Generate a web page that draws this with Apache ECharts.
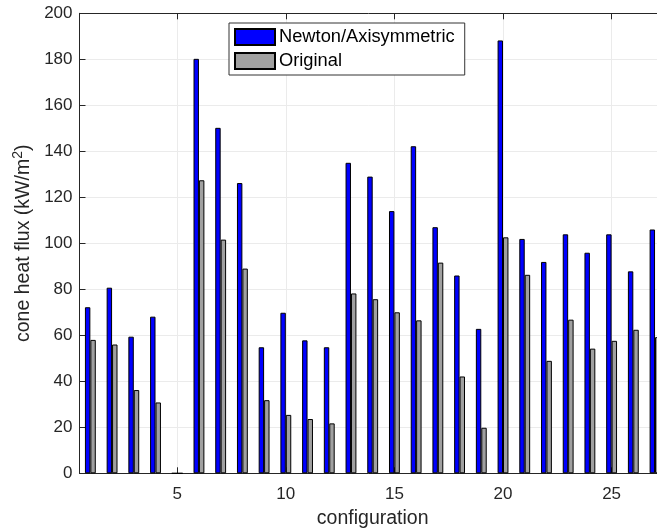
<!DOCTYPE html>
<html>
<head>
<meta charset="utf-8">
<script src="https://cdn.jsdelivr.net/npm/echarts@6/dist/echarts.min.js"></script>
<style>html,body{margin:0;padding:0;background:#fff}#c{width:657px;height:529px}</style>
</head>
<body>
<div id="c"></div>
<script>
var categories = ['1','2','3','4','5','6','7','8','9','10','11','12','13','14','15','16','17','18','19','20','21','22','23','24','25','26','27'];
var newtonValues = [72.2, 80.7, 59.4, 68.1, 0, 180.2, 150.2, 126.2, 54.8, 69.8, 57.8, 54.8, 135, 129, 114, 142.2, 107, 86, 62.8, 188.2, 101.9, 91.9, 103.9, 95.9, 103.9, 87.8, 106];
var originalValues = [58, 56, 36.2, 30.8, 0, 127.4, 101.6, 89, 31.8, 25.4, 23.6, 21.7, 78.2, 75.7, 70, 66.5, 91.6, 42.1, 19.8, 102.6, 86.3, 48.9, 66.8, 54.2, 57.6, 62.4, 59.2];
var yTicks = [0, 20, 40, 60, 80, 100, 120, 140, 160, 180, 200];
var xTickLabels = [5, 10, 15, 20, 25];

var font = 'Liberation Sans, Arial, Helvetica, sans-serif';
var axisColor = '#262626';
var gridColor = '#ebebeb';

var chart = echarts.init(document.getElementById('c'), null, {renderer: 'canvas'});
chart.setOption({
  animation: false,
  backgroundColor: '#fff',
  textStyle: {fontFamily: font},
  grid: {left: 79.5, right: -8.9, top: 13.3, bottom: 55.7, containLabel: false, outerBoundsMode: 'none'},
  legend: {
    orient: 'vertical',
    left: 229, top: 23,
    itemWidth: 40, itemHeight: 16, itemGap: 6,
    padding: [5, 10, 5, 5],
    backgroundColor: '#fff',
    borderColor: '#333', borderWidth: 1,
    icon: 'rect',
    textStyle: {fontFamily: font, fontSize: 18.3, color: '#000', lineHeight: 16, padding: [0,0,0,-1]},
    data: ['Newton/Axisymmetric', 'Original']
  },
  xAxis: [
    {type: 'category', data: categories, show: false, boundaryGap: true, position: 'bottom'},
    {
      type: 'value', min: 0.5, max: 27.5, splitNumber: 5, position: 'bottom',
      axisLine: {show: true, onZero: false, lineStyle: {color: axisColor, width: 1}},
      axisTick: {show: true, inside: true, length: 6, lineStyle: {color: axisColor}},
      axisLabel: {
        show: true, margin: 13, fontSize: 17, color: axisColor, fontFamily: font,
        showMinLabel: false, showMaxLabel: false,
        formatter: function (v) { return xTickLabels.indexOf(v) >= 0 ? String(v) : ''; }
      },
      splitLine: {show: true, lineStyle: {color: gridColor, width: 1}},
      name: 'configuration', nameLocation: 'middle', nameGap: 34,
      nameTextStyle: {fontSize: 19.5, color: axisColor, fontFamily: font}
    },
    {
      type: 'value', min: 0.5, max: 27.5, splitNumber: 5, position: 'top',
      axisLine: {show: true, onZero: false, lineStyle: {color: axisColor, width: 1}},
      axisTick: {show: true, inside: true, length: 6, lineStyle: {color: axisColor}},
      axisLabel: {show: false},
      splitLine: {show: false}
    }
  ],
  yAxis: [{
    type: 'value', min: 0, max: 200, interval: 20,
    axisLine: {show: true, lineStyle: {color: axisColor, width: 1}},
    axisTick: {show: true, inside: true, length: 6, lineStyle: {color: axisColor}},
    axisLabel: {
      margin: 7, fontSize: 17, color: axisColor, fontFamily: font,
      formatter: function (v) { return yTicks.indexOf(v) >= 0 ? String(v) : ''; }
    },
    splitLine: {show: true, lineStyle: {color: gridColor, width: 1}},
    name: '{a|cone heat flux (kW/m}{b|2}{a|)}',
    nameLocation: 'middle', nameGap: 35, nameRotate: 90,
    nameTextStyle: {
      fontFamily: font, color: axisColor,
      rich: {
        a: {fontSize: 19.5, fontFamily: font, color: axisColor, verticalAlign: 'bottom', lineHeight: 22},
        b: {fontSize: 14, fontFamily: font, color: axisColor, verticalAlign: 'top', lineHeight: 22, padding: [0,0,8,0]}
      }
    }
  }],
  series: [
    {
      name: 'Newton/Axisymmetric', type: 'bar', xAxisIndex: 0, yAxisIndex: 0,
      data: newtonValues, barWidth: '25%', barGap: '0%',
      itemStyle: {color: '#0000ff', borderColor: '#000', borderWidth: 1}
    },
    {
      name: 'Original', type: 'bar', xAxisIndex: 0, yAxisIndex: 0,
      data: originalValues, barWidth: '25%', barGap: '0%',
      itemStyle: {color: '#a0a0a0', borderColor: '#000', borderWidth: 1}
    }
  ]
});
</script>
</body>
</html>
